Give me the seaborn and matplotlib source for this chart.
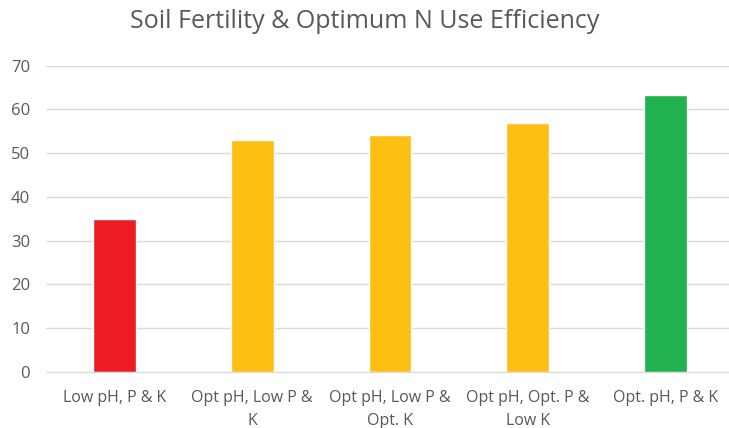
import matplotlib
matplotlib.use("Agg")
import matplotlib.pyplot as plt
import seaborn as sns
import pandas as pd

categories = ["Low pH, P & K", "Opt pH, Low P &\nK", "Opt pH, Low P &\nOpt. K",
              "Opt pH, Opt. P &\nLow K", "Opt. pH, P & K"]
values = [35.0, 53.1, 54.2, 57.0, 63.2]
colors = ["#ED1C24", "#FCBF12", "#FCBF12", "#FCBF12", "#21B14F"]

sns.set_style("white")
plt.rcParams["font.family"] = ["Open Sans", "DejaVu Sans"]

df = pd.DataFrame({"cat": categories, "val": values})

fig = plt.figure(figsize=(7.29, 4.28), dpi=100)
ax = fig.add_axes([45.5 / 729, 1 - 372 / 428, (729 - 45.5) / 729, (372 - 65.7) / 428])

sns.barplot(data=df, x="cat", y="val", hue="cat", palette=colors, width=0.31,
            legend=False, ax=ax, saturation=1)

ax.set_ylim(0, 70)
ax.set_xlim(-0.5, 4.46)
ax.set_yticks(range(0, 71, 10))
ax.yaxis.grid(True, color="#D9D9D9", linewidth=1)
ax.set_axisbelow(True)
for s in ["top", "right", "left"]:
    ax.spines[s].set_visible(False)
ax.spines["bottom"].set_color("#D9D9D9")
ax.set_xlabel("")
ax.set_ylabel("")
ax.tick_params(axis="both", length=0, labelsize=11.5, labelcolor="#595959")
ax.tick_params(axis="y", pad=11, labelsize=12)
ax.tick_params(axis="x", pad=13)
for lbl in ax.get_xticklabels():
    lbl.set_linespacing(1.6)

fig.text(0.5, 1 - 22 / 428, "Soil Fertility & Optimum N Use Efficiency",
         ha="center", va="center", fontsize=18, color="#595959")

fig.savefig("out.png", dpi=100)
